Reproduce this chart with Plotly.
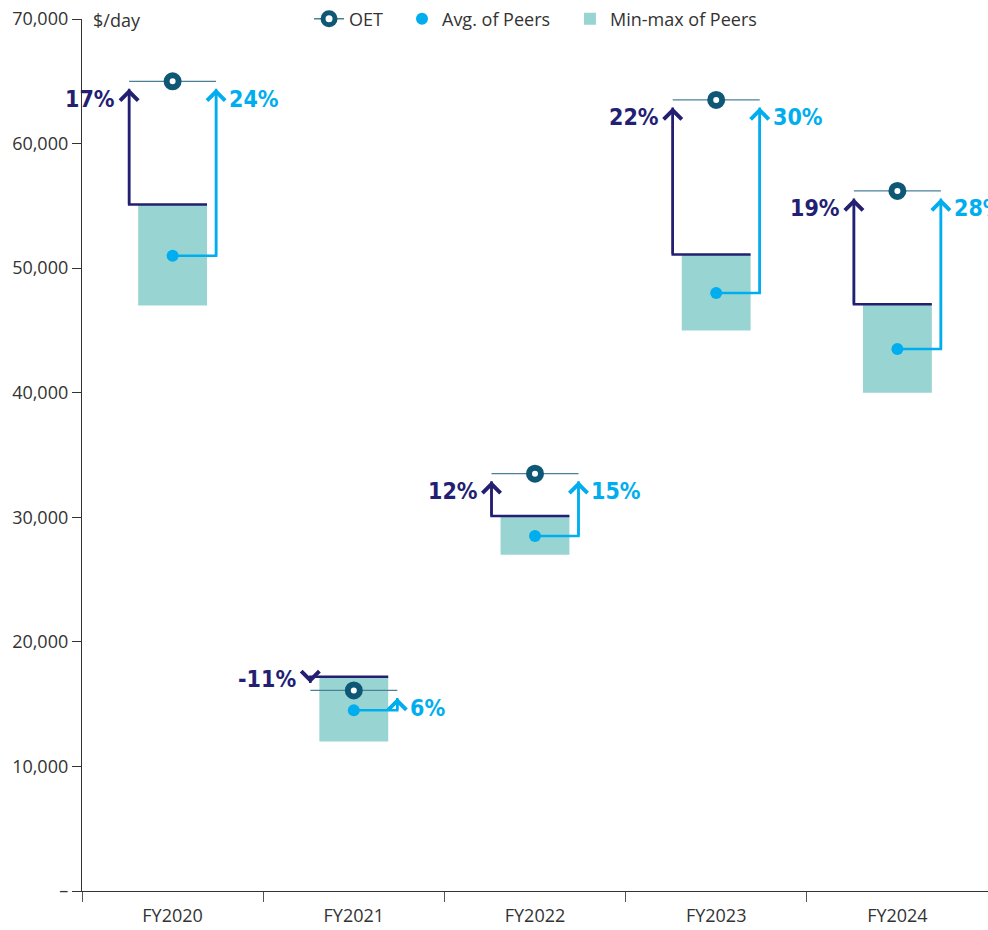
import plotly.graph_objects as go

# ---- data -------------------------------------------------------------
years = ["FY2020", "FY2021", "FY2022", "FY2023", "FY2024"]
oet = [65000, 16100, 33500, 63500, 56200]
peer_avg = [51000, 14500, 28500, 48000, 43500]
peer_min = [47000, 12000, 27000, 45000, 40000]
peer_max = [55100, 17200, 30100, 51100, 47100]
pct_vs_max = ["17%", "-11%", "12%", "22%", "19%"]
pct_vs_avg = ["24%", "6%", "15%", "30%", "28%"]
y_ticks = [0, 10000, 20000, 30000, 40000, 50000, 60000, 70000]
y_tick_text = ["–", "10,000", "20,000", "30,000", "40,000", "50,000", "60,000", "70,000"]

# ---- style ------------------------------------------------------------
NAVY = "#231f72"
SKY = "#00aeef"
BOX = "#98d5d2"
OET_DARK = "#0e5876"
OET_LINE = "#4a8199"
AXIS = "#333333"
TEXT_FONT = "Open Sans, Noto Sans, sans-serif"
PCT_FONT = "DejaVu Sans Condensed, sans-serif"

SIDE = 0.24        # horizontal offset of the connector arrows from the category centre
BOX_W = 0.38       # width of the min-max box
ARROW_GAP = 600    # arrow tips stop just short of the OET level

x_idx = list(range(len(years)))

fig = go.Figure()

# min-max range of peers
fig.add_trace(go.Bar(
    x=x_idx, y=[hi - lo for hi, lo in zip(peer_max, peer_min)], base=peer_min,
    width=BOX_W, marker=dict(color=BOX, line=dict(width=0)),
    name="Min-max of Peers", legend="legend3", hoverinfo="skip",
))


def arrow_head(x, tip, tail, color):
    return dict(
        x=x, y=tip, ax=x, ay=tail, xref="x", yref="y", axref="x", ayref="y",
        text="", showarrow=True, arrowhead=4, arrowsize=1.4, arrowwidth=2.5,
        arrowcolor=color, standoff=0, borderpad=0, font=dict(size=1),
    )


# connectors: peer max -> OET (navy) and peer avg -> OET (sky)
navy_x, navy_y, sky_x, sky_y = [], [], [], []
annotations = []
for i, c in enumerate(x_idx):
    up_max = oet[i] > peer_max[i]
    tip_max = oet[i] - ARROW_GAP if up_max else oet[i] + ARROW_GAP
    xl = c - SIDE
    navy_x += [c + BOX_W / 2, xl, xl, None]
    navy_y += [peer_max[i], peer_max[i], tip_max, None]
    annotations.append(arrow_head(xl, tip_max, peer_max[i], NAVY))
    annotations.append(dict(
        x=xl, y=tip_max, xref="x", yref="y", showarrow=False,
        text=pct_vs_max[i], xanchor="right", yanchor="middle",
        xshift=-12, yshift=-10 if up_max else 4,
        font=dict(family=PCT_FONT, size=23, color=NAVY, weight="bold"),
    ))

    up_avg = oet[i] > peer_avg[i]
    tip_avg = oet[i] - ARROW_GAP if up_avg else oet[i] + ARROW_GAP
    xr = c + SIDE
    sky_x += [c, xr, xr, None]
    sky_y += [peer_avg[i], peer_avg[i], tip_avg, None]
    annotations.append(arrow_head(xr, tip_avg, peer_avg[i], SKY))
    annotations.append(dict(
        x=xr, y=tip_avg, xref="x", yref="y", showarrow=False,
        text=pct_vs_avg[i], xanchor="left", yanchor="middle",
        xshift=11, yshift=-10 if up_avg else 4,
        font=dict(family=PCT_FONT, size=23, color=SKY, weight="bold"),
    ))

fig.add_trace(go.Scatter(
    x=navy_x, y=navy_y, mode="lines", line=dict(color=NAVY, width=2.5),
    showlegend=False, hoverinfo="skip",
))
fig.add_trace(go.Scatter(
    x=sky_x, y=sky_y, mode="lines", line=dict(color=SKY, width=2.5),
    showlegend=False, hoverinfo="skip",
))

# OET level segments
seg_x, seg_y = [], []
for i, c in enumerate(x_idx):
    seg_x += [c - SIDE, c + SIDE, None]
    seg_y += [oet[i], oet[i], None]
fig.add_trace(go.Scatter(
    x=seg_x, y=seg_y, mode="lines", line=dict(color=OET_LINE, width=1.3),
    showlegend=False, hoverinfo="skip",
))

# peer averages
fig.add_trace(go.Scatter(
    x=x_idx, y=peer_avg, mode="markers", name="Avg. of Peers", legend="legend2",
    marker=dict(color=SKY, size=12),
))

# OET markers (isolated points; the line style only shows in the legend)
pt_x, pt_y = [], []
for i, c in enumerate(x_idx):
    pt_x += [c, None]
    pt_y += [oet[i], None]
fig.add_trace(go.Scatter(
    x=pt_x, y=pt_y, mode="lines+markers", name="OET", legend="legend",
    line=dict(color=OET_LINE, width=1.5),
    marker=dict(color="white", size=12, line=dict(color=OET_DARK, width=6)),
))

annotations.append(dict(
    x=0, y=70000, xref="paper", yref="y", text="$/day", showarrow=False,
    xanchor="left", yanchor="middle", xshift=9, yshift=-1,
    font=dict(family=TEXT_FONT, size=18, color=AXIS),
))

legend_common = dict(
    orientation="h", y=1.0, xanchor="left", yanchor="middle",
    font=dict(family=TEXT_FONT, size=18, color=AXIS), bgcolor="rgba(0,0,0,0)",
)

fig.update_layout(
    width=988, height=930,
    margin=dict(l=82, r=0, t=16, b=39),
    paper_bgcolor="white", plot_bgcolor="white",
    font=dict(family=TEXT_FONT, size=18, color=AXIS),
    showlegend=True,
    legend=dict(x=0.2506, **legend_common),
    legend2=dict(x=0.3532, **legend_common),
    legend3=dict(x=0.5386, **legend_common),
    annotations=annotations,
    barmode="overlay",
)

fig.update_xaxes(
    range=[-0.5, 4.5], tickvals=x_idx, ticktext=years, ticks="",
    showline=True, linecolor=AXIS, linewidth=1.3, showgrid=False, zeroline=False,
    ticklabelstandoff=8,
    minor=dict(tickvals=[-0.5, 0.5, 1.5, 2.5, 3.5, 4.5], ticks="outside",
               ticklen=10, tickcolor="#555555", tickwidth=1, showgrid=False),
    tickfont=dict(family=TEXT_FONT, size=18, color=AXIS),
)
fig.update_yaxes(
    range=[0, 70000], tickvals=y_ticks, ticktext=y_tick_text,
    ticks="outside", ticklen=9, tickcolor=AXIS, tickwidth=1.3,
    showline=True, linecolor=AXIS, linewidth=1.3, showgrid=False, zeroline=False,
    tickfont=dict(family=TEXT_FONT, size=18, color=AXIS),
)

fig.write_html("out.html")
